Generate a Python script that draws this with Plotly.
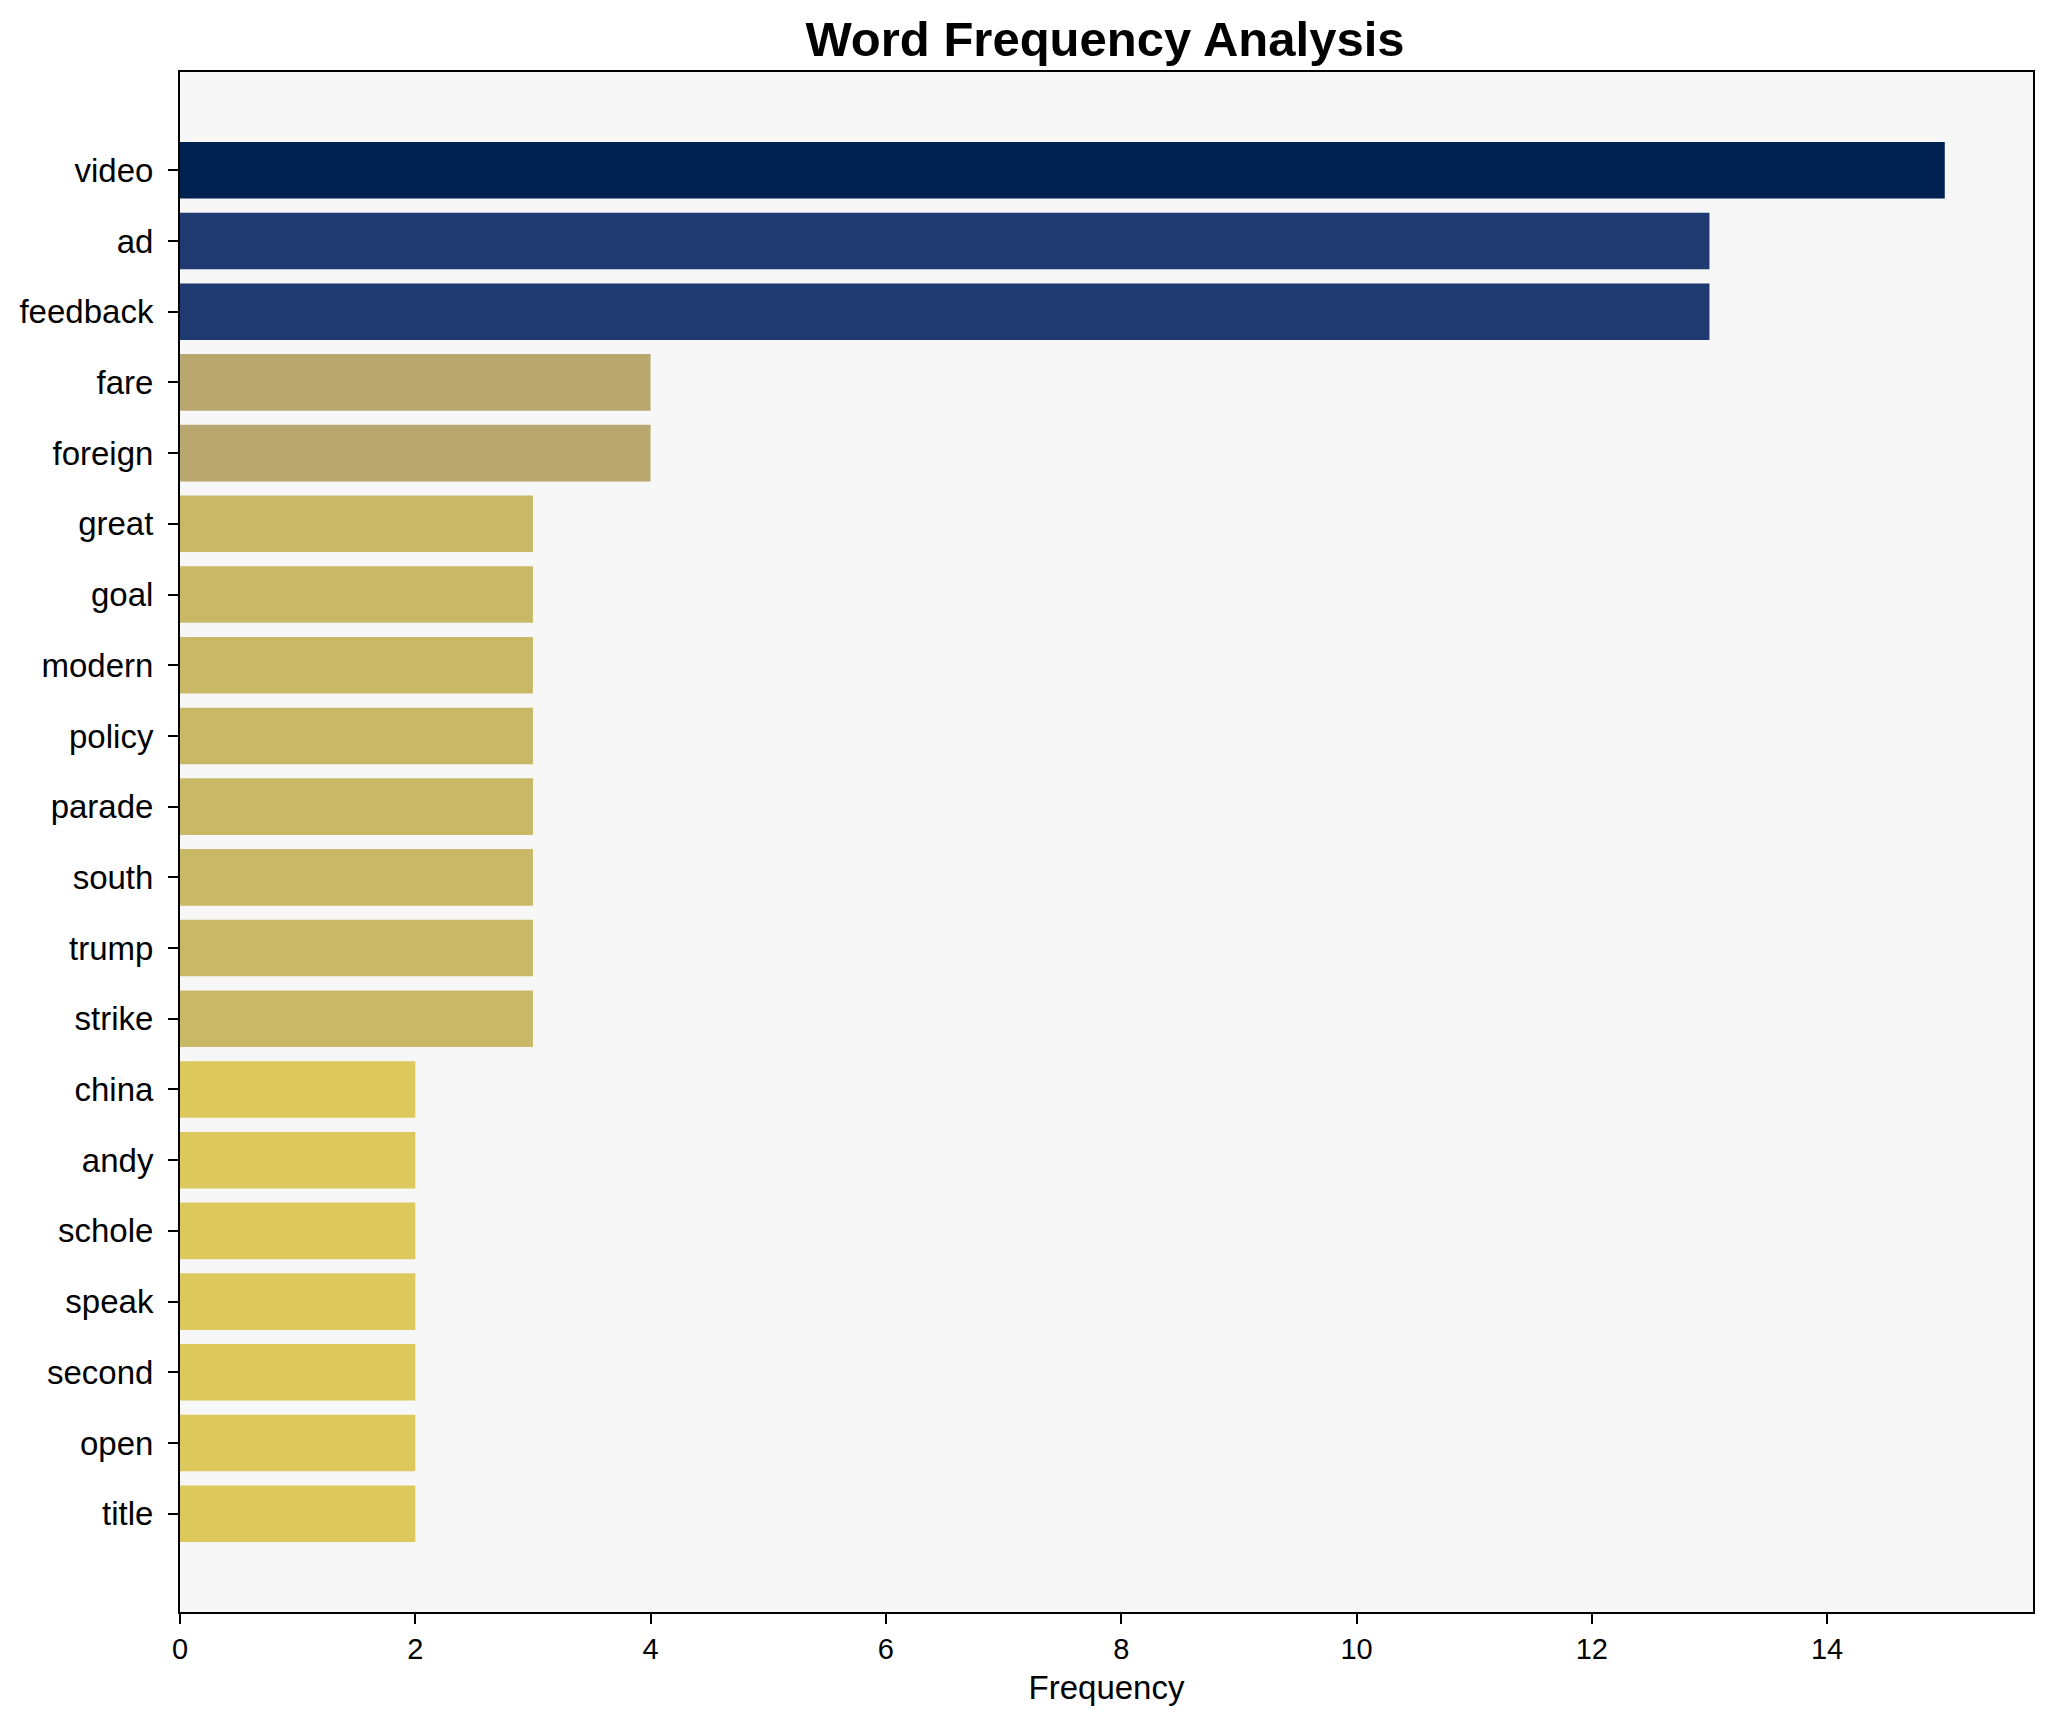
import plotly.graph_objects as go

words = ["video", "ad", "feedback", "fare", "foreign", "great", "goal", "modern",
         "policy", "parade", "south", "trump", "strike", "china", "andy", "schole",
         "speak", "second", "open", "title"]
freqs = [15, 13, 13, 4, 4, 3, 3, 3, 3, 3, 3, 3, 3, 2, 2, 2, 2, 2, 2, 2]

# colour per frequency level (cividis-like shading)
level_colors = {15: "#002251", 13: "#1f3a70", 4: "#b8a86f", 3: "#c9b966", 2: "#dcc85c"}
bar_colors = [level_colors[f] for f in freqs]

# page body has an 8px margin, so the figure is drawn 8px in from the window edge
OFF = 8
W, H = 2054 - 2 * OFF, 1722 - 2 * OFF
L, R, T, B = 175 - OFF, 2035 - OFF, 72 - OFF, 1612 - OFF

fig = go.Figure(go.Bar(
    x=freqs, y=words, orientation="h",
    marker=dict(color=bar_colors, line=dict(width=0)),
    hoverinfo="x+y",
))

fnt = "Liberation Sans, Arial, sans-serif"
n = len(words)
fig.update_layout(
    width=W, height=H,
    margin=dict(l=L, r=W - R, t=T, b=H - B, pad=0),
    paper_bgcolor="white", plot_bgcolor="#f7f7f7",
    bargap=0.2, showlegend=False,
    font=dict(family=fnt, color="black"),
    title=dict(text="<b>Word Frequency Analysis</b>", x=(L + R) / 2 / W, xanchor="center",
               xref="container", yref="container", y=1 - (39 - OFF) / H, yanchor="middle",
               font=dict(size=49, family=fnt, color="black")),
    xaxis=dict(range=[0, 15.75], tickmode="array", tickvals=[0, 2, 4, 6, 8, 10, 12, 14],
               showgrid=False, zeroline=False, showline=True, linecolor="black", linewidth=2,
               mirror=True, ticks="outside", ticklen=10, tickwidth=2, tickcolor="black",
               tickfont=dict(size=29, family=fnt, color="black"),
               title=dict(text="Frequency", font=dict(size=33, family=fnt, color="black"), standoff=12)),
    yaxis=dict(type="category", categoryorder="array", categoryarray=words,
               range=[n - 1 + 1.39, -1.39],
               showgrid=False, zeroline=False, showline=True, linecolor="black", linewidth=2,
               mirror=True, ticks="outside", ticklen=10, tickwidth=2, tickcolor="black",
               tickfont=dict(size=33, family=fnt, color="black"), ticklabelstandoff=8),
)

fig.write_html("out.html")
